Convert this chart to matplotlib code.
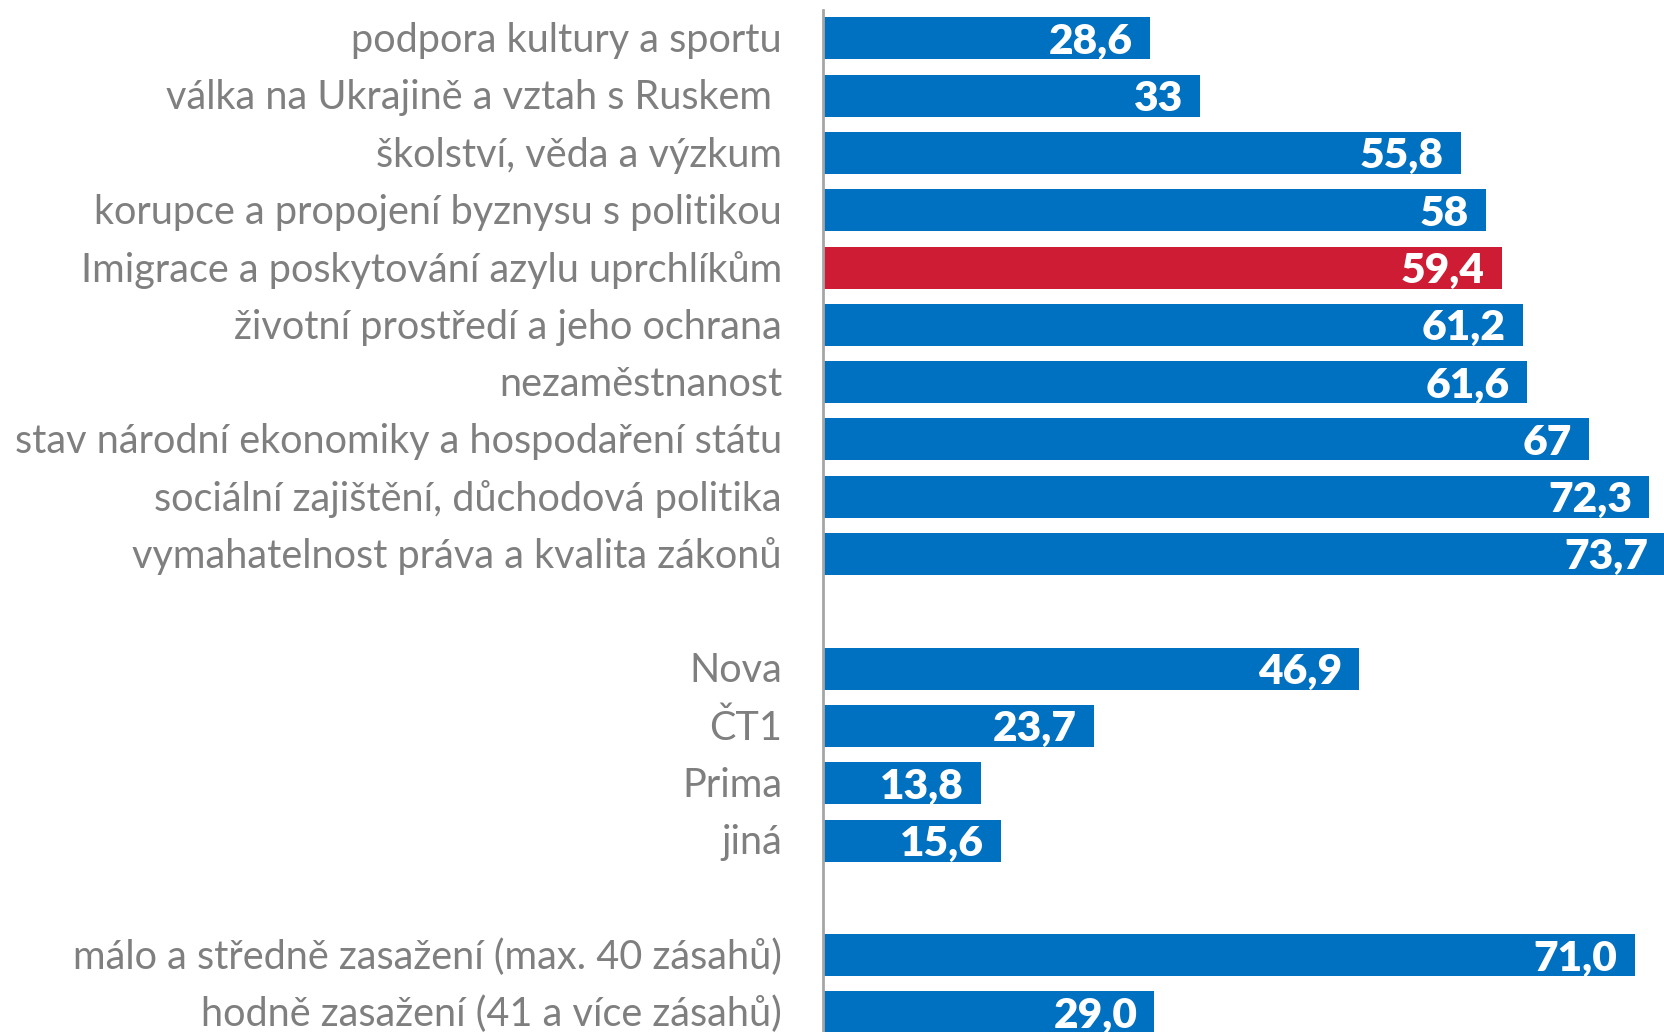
import numpy as np
import matplotlib.pyplot as plt

# issues (top block), TV channels, number of hits
topics = ['podpora kultury a sportu', 'válka na Ukrajině a vztah s Ruskem ',
          'školství, věda a výzkum', 'korupce a propojení byznysu s politikou',
          'Imigrace a poskytování azylu uprchlíkům', 'životní prostředí a jeho ochrana',
          'nezaměstnanost', 'stav národní ekonomiky a hospodaření státu',
          'sociální zajištění, důchodová politika', 'vymahatelnost práva a kvalita zákonů']
topic_vals = [28.6, 33, 55.8, 58, 59.4, 61.2, 61.6, 67, 72.3, 73.7]
topic_text = ['28,6', '33', '55,8', '58', '59,4', '61,2', '61,6', '67', '72,3', '73,7']

channels = ['Nova', 'ČT1', 'Prima', 'jiná']
channel_vals = [46.9, 23.7, 13.8, 15.6]
channel_text = ['46,9', '23,7', '13,8', '15,6']

hits = ['málo a středně zasažení (max. 40 zásahů)', 'hodně zasažení (41 a více zásahů)']
hit_vals = [71.0, 29.0]
hit_text = ['71,0', '29,0']

highlight = 'Imigrace a poskytování azylu uprchlíkům'

BLUE = '#0070C0'
RED = '#CE1C35'
GREY = '#7F7F7F'

plt.rcParams['font.family'] = ['Lato', 'DejaVu Sans']

# row positions with an empty row between the groups
labels = topics + [''] + channels + [''] + hits
vals = topic_vals + [None] + channel_vals + [None] + hit_vals
texts = topic_text + [''] + channel_text + [''] + hit_text

fig = plt.figure(figsize=(16.64, 10.32), dpi=100)
ax = fig.add_axes([823 / 1664, 0, 1 - 823 / 1664, 1 - 10 / 1032])

for i, (lab, v, t) in enumerate(zip(labels, vals, texts)):
    if v is None:
        continue
    col = RED if lab == highlight else BLUE
    ax.barh(i, v, height=0.733, color=col, edgecolor='none')
    narrow = i >= len(topics) + len(channels) + 2
    ax.text(v - 1.5, i + 0.06, t, ha='right', va='center', color='white',
            fontsize=30.5, fontweight='heavy',
            fontstretch='condensed' if narrow else 'normal')
    fig.text(782 / 1664, 1 - (40.5 + i * 57.3) / 1032, lab, ha='right', va='center',
             color=GREY, fontsize=28.5)

ax.set_xlim(0, (1664 - 823) / 11.43)
ax.set_ylim(len(labels) - 1 + 0.342, -0.494)
ax.set_xticks([])
ax.set_yticks([])
for s in ['top', 'right', 'bottom']:
    ax.spines[s].set_visible(False)
ax.spines['left'].set_color('#A6A6A6')
ax.spines['left'].set_linewidth(2)

fig.savefig('out.png', dpi=100)
